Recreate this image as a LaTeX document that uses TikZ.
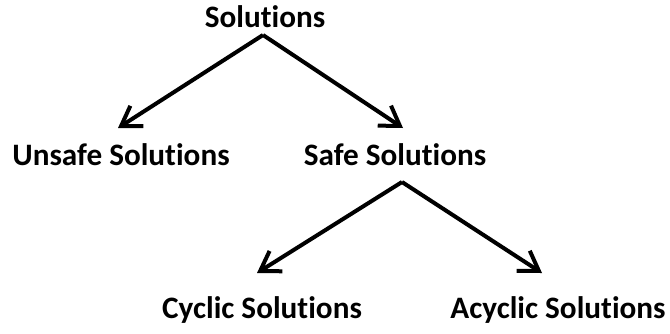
\documentclass[tikz,border=0pt]{standalone}
\usepackage{fontspec}
\setmainfont[Ligatures=NoCommon]{Carlito}
\usetikzlibrary{arrows.meta}
\begin{document}
\begin{tikzpicture}[x=0.75pt,y=-0.75pt,
  label/.style={font=\bfseries\fontsize{23.4}{28}\selectfont, inner sep=0pt, anchor=base},
  branch/.style={line width=3pt, -{Straight Barb[length=14pt,width=18pt,line width=3pt]}}]
  \useasboundingbox (0,0) rectangle (670,333);
  % tree labels
  \node[label] (root)   at (265,27)  {Solutions};
  \node[label] (unsafe) at (121,165) {Unsafe Solutions};
  \node[label] (safe)   at (395,165) {Safe Solutions};
  \node[label] (cyclic) at (262,318) {Cyclic Solutions};
  \node[label] (acyclic) at (558,318) {Acyclic Solutions};
  % fork points and arrow tips
  \coordinate (rootfork) at (263,35);
  \coordinate (unsafetip) at (118,128);
  \coordinate (safetip) at (403,128);
  \coordinate (safefork) at (402,182);
  \coordinate (cyclictip) at (257,273);
  \coordinate (acyclictip) at (542,273);
  % branches
  \draw[branch] (rootfork) -- (unsafetip);
  \draw[branch] (rootfork) -- (safetip);
  \draw[branch] (safefork) -- (cyclictip);
  \draw[branch] (safefork) -- (acyclictip);
\end{tikzpicture}
\end{document}
